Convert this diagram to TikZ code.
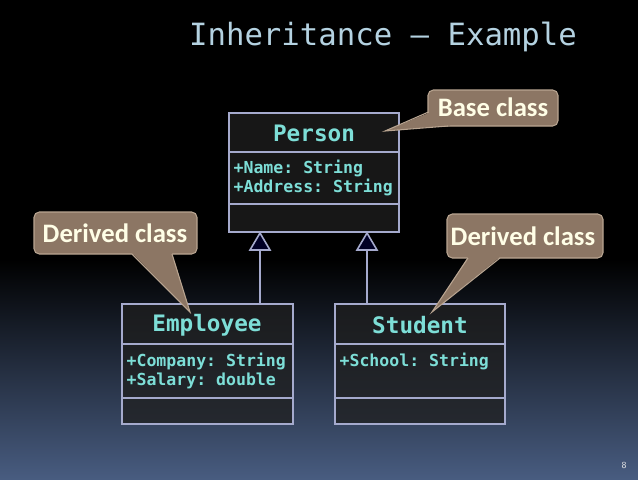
\documentclass[tikz,border=0pt]{standalone}
\usepackage{fontspec}
\setmonofont{DejaVu Sans Mono}
\newfontfamily\callfont{Carlito}
\definecolor{teal1}{RGB}{125,222,215}
\definecolor{boxc}{RGB}{165,170,205}
\definecolor{callc}{RGB}{140,118,100}
\definecolor{callb}{RGB}{185,165,145}
\begin{document}
\begin{tikzpicture}[x=0.75pt,y=-0.75pt,
  boxline/.style={draw=boxc, line width=1.2pt, fill=white!12!black, fill opacity=0.75, draw opacity=1},
  cname/.style={font=\ttfamily\bfseries\fontsize{17}{20}\selectfont, text=teal1},
  attr/.style={font=\ttfamily\bfseries\fontsize{12.4}{14.5}\selectfont, text=teal1, align=left, anchor=north west, inner sep=1pt},
  callout/.style={fill=callc, draw=callb, line width=0.8pt, rounded corners=4pt},
  ctext/.style={font=\callfont\bfseries\fontsize{20}{24}\selectfont, text=white!90!yellow},
  inh/.style={draw=boxc, line width=1.2pt}]
\useasboundingbox (0,0) rectangle (638,479);
\fill[black] (0,0) rectangle (638,260);
\shade[top color=black, bottom color={rgb,255:red,72;green,92;blue,128}] (0,259) rectangle (638,479);
\node[font=\ttfamily\fontsize{23}{27}\selectfont, text={rgb,255:red,180;green,210;blue,225}] (title) at (383,37) {Inheritance – Example};
\node[font=\sffamily\fontsize{7}{8}\selectfont, text=white!80!gray] (pg) at (624,465) {8};
% Person
\draw[boxline] (229,113) rectangle (399,232);
\draw[inh] (229,152) -- (399,152) (229,204) -- (399,204);
\node[cname] (person) at (314,133) {Person};
\node[attr] (pattr) at (232,158) {+Name: String\\+Address: String};
% Employee
\draw[boxline] (122,304) rectangle (293,424);
\draw[inh] (122,344) -- (293,344) (122,398) -- (293,398);
\node[cname] (emp) at (207,325) {Employee};
\node[attr] (eattr) at (125,351) {+Company: String\\+Salary: double};
% Student
\draw[boxline] (335,304) rectangle (505,424);
\draw[inh] (335,344) -- (505,344) (335,398) -- (505,398);
\node[cname] (stu) at (420,325) {Student};
\node[attr] (sattr) at (338,351) {+School: String};
% inheritance
\coordinate (e1) at (260,304); \coordinate (e2) at (260,250);
\coordinate (s1) at (367,304); \coordinate (s2) at (367,250);
\draw[inh] (e1) -- (e2); \draw[inh] (s1) -- (s2);
\draw[inh, fill=black!85!blue] (250,250) -- (260,233) -- (270,250) -- cycle;
\draw[inh, fill=black!85!blue] (357,250) -- (367,233) -- (377,250) -- cycle;
% callouts
\draw[callout] (428,90) rectangle (558,126);
\fill[callc] (431,112) -- (385,131) -- (450,125.5) -- cycle;
\draw[callb, line width=0.8pt] (428.5,112) -- (385,131) -- (448,126);
\node[ctext] (base) at (493,107) {Base class};
\draw[callout] (34,212) rectangle (197,254);
\fill[callc] (132,253) -- (190,312) -- (172,253) -- cycle;
\draw[callb, line width=0.8pt] (132,254) -- (190,312) -- (172,254);
\node[ctext] (dl) at (115,233) {Derived class};
\draw[callout] (447,214) rectangle (603,258);
\fill[callc] (468,257) -- (432,312) -- (500,257) -- cycle;
\draw[callb, line width=0.8pt] (468,258) -- (432,312) -- (500,258);
\node[ctext] (dr) at (523,236) {Derived class};
\end{tikzpicture}
\end{document}
